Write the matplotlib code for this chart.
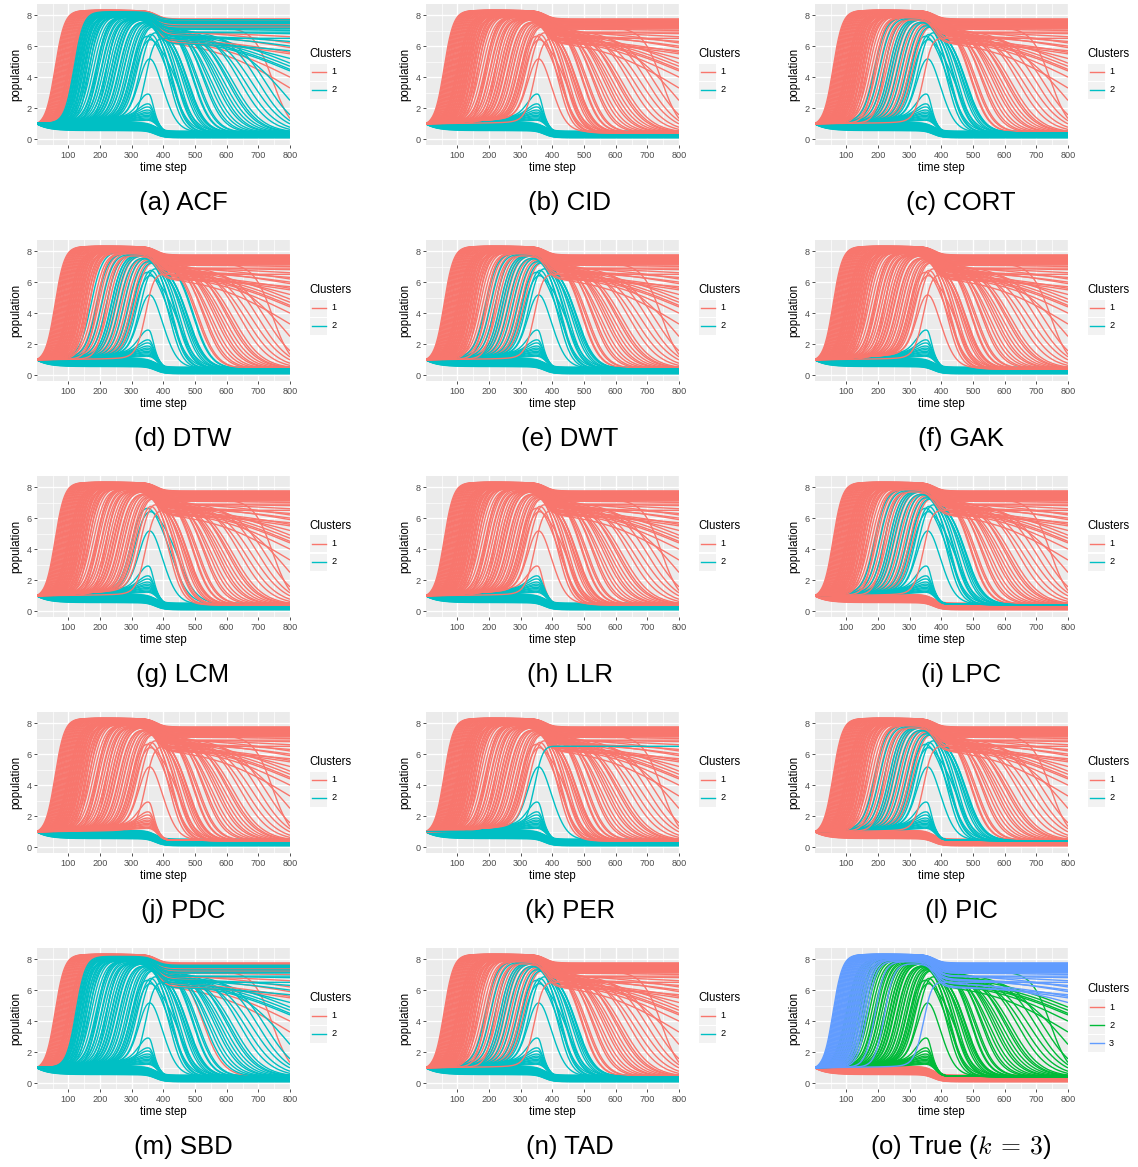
import numpy as np
import matplotlib
matplotlib.use("Agg")
import matplotlib.pyplot as plt
from matplotlib.patches import Rectangle
from matplotlib.lines import Line2D

plt.rcParams["font.family"] = ["Liberation Sans", "DejaVu Sans"]
plt.rcParams["mathtext.fontset"] = "cm"

# ---- curves ---------------------------------------------------------------
# low class: level held until t~370, level after the drop
low_level = [1.08, 1.06, 1.04, 1.02, 1.0, 0.98, 0.96, 0.94, 0.92, 0.9, 0.88, 0.86, 0.84,
             0.82, 0.8, 0.78, 0.76, 0.74, 0.72, 0.7, 0.68, 0.66, 0.64, 0.62, 0.6, 0.58, 0.56]
low_last = [0.52, 0.5, 0.48, 0.46, 0.44, 0.42, 0.41, 0.39, 0.37, 0.35, 0.34, 0.32, 0.3,
            0.29, 0.27, 0.26, 0.24, 0.23, 0.21, 0.2, 0.18, 0.17, 0.15, 0.14, 0.12, 0.11, 0.1]

# small bumps around t~355
bump_peak = [2.9, 2.25, 2.05, 1.85, 1.72, 1.62, 1.52, 1.44, 1.36, 1.28, 1.22]
bump_base = [1.5, 1.48, 1.45, 1.42, 1.38, 1.35, 1.3, 1.27, 1.22, 1.18, 1.14]

# middle class: rise time, plateau, level after t~380, decline centre, width, value at t=800
mid_rise = [100, 105, 112, 120, 128, 135, 142, 150, 158, 165, 172, 180, 188, 196, 204, 212,
            220, 228, 236, 244, 252, 260, 268, 276, 284, 292, 300, 310,
            190, 205, 220, 235, 250, 262, 275, 290, 305, 318, 328, 242,
            298, 310, 326]
mid_top = [8.0, 8.0, 8.0, 8.0, 8.0, 8.0, 8.0, 8.0, 8.0, 8.0, 8.0, 8.0, 8.0, 7.95, 7.95, 7.9,
           7.9, 7.85, 7.85, 7.8, 7.8, 7.8, 7.75, 7.75, 7.7, 7.7, 7.7, 7.65,
           7.9, 7.85, 7.85, 7.8, 7.8, 7.75, 7.75, 7.7, 7.7, 7.7, 7.6, 7.8,
           7.3, 7.1, 6.6]
mid_hold = [7.2, 6.6, 6.5, 7.5, 7.3, 6.7, 7.4, 7.0, 6.8, 7.2, 7.5, 7.0, 7.1, 7.4, 6.9, 6.8,
            7.3, 7.0, 7.5, 7.2, 7.4, 6.6, 7.1, 7.3, 6.9, 7.2, 6.8, 7.0,
            7.5, 7.4, 7.3, 7.3, 7.2, 7.2, 7.1, 7.1, 7.0, 7.0, 6.9, 7.2,
            6.5, 6.3, 5.2]
mid_drop = [745, 800, 800, 525, 600, 800, 560, 700, 800, 640, 495, 800, 580, 540, 660, 800,
            510, 620, 492, 570, 530, 800, 590, 505, 680, 550, 725, 610,
            425, 440, 460, 450, 475, 430, 478, 445, 468, 420, 472, 476,
            428, 448, 405]
mid_width = [30, 130, 130, 32, 45, 130, 40, 50, 90, 48, 28, 130, 42, 36, 50, 130,
             30, 46, 28, 40, 34, 130, 44, 30, 52, 38, 50, 45,
             22, 24, 26, 24, 28, 22, 28, 24, 26, 21, 28, 28,
             26, 28, 22]
mid_last = [0.4, 4.0, 3.3, 0.4, 0.4, 4.5, 0.4, 0.4, 2.5, 0.4, 0.4, 4.9, 0.4, 0.4, 0.4, 4.7,
            0.4, 0.4, 0.4, 0.4, 0.4, 4.4, 0.4, 0.4, 0.4, 0.4, 0.4, 0.4,
            0.4, 0.4, 0.4, 0.4, 0.4, 0.4, 0.4, 0.4, 0.4, 0.4, 0.4, 0.4,
            0.45, 0.45, 0.45]

# high class: rise time, plateau, level after t~380, value at t=800
high_rise = [58, 61, 64, 67, 70, 73, 76, 79, 82, 85, 88, 91, 94, 97, 100, 103, 106,
             109, 112, 115, 118, 121, 124, 127, 130, 133, 136, 140, 144, 148, 153, 158, 165,
             190, 220, 345]
high_top = [8.3, 8.3, 8.3, 8.3, 8.3, 8.3, 8.3, 8.3, 8.3, 8.3, 8.3, 8.3, 8.3, 8.3, 8.3, 8.3,
            8.28, 8.28, 8.26, 8.25, 8.22, 8.2, 8.18, 8.15, 8.12, 8.1, 8.08, 8.05, 8.02, 8.0,
            7.98, 7.95, 7.9, 7.85, 7.75, 6.6]
high_hold = [7.75, 7.6, 7.7, 7.45, 7.65, 7.3, 7.55, 7.2, 7.7, 7.4, 6.5, 7.6, 6.9, 7.5, 7.35,
             6.3, 7.65, 7.0, 7.25, 6.8, 7.7, 7.1, 7.45, 6.9, 7.6, 6.7, 7.15, 7.55, 6.6, 7.3,
             6.9, 7.5, 6.2, 7.1, 6.7, 6.5]
high_last = [7.75, 7.6, 7.7, 7.45, 7.65, 7.3, 7.55, 7.2, 7.7, 7.4, 5.6, 7.6, 6.6, 7.5, 7.35,
             5.5, 7.65, 6.2, 7.25, 5.9, 7.7, 7.0, 7.45, 6.9, 7.6, 6.0, 7.15, 7.55, 5.2, 7.3,
             6.8, 7.5, 5.7, 7.1, 6.3, 6.5]

methods = ["(a) ACF", "(b) CID", "(c) CORT", "(d) DTW", "(e) DWT", "(f) GAK", "(g) LCM",
           "(h) LLR", "(i) LPC", "(j) PDC", "(k) PER", "(l) PIC", "(m) SBD", "(n) TAD",
           r"(o) True ($k\:=\:3$)"]

RED, CYAN = "#F8766D", "#00BFC4"
TRUE_COLORS = ["#F8766D", "#00BA38", "#619CFF"]

t = np.arange(1, 801)


def sig(x):
    return 1.0 / (1.0 + np.exp(-x))


def grow(r, top, hold, drop, width, last, slope=0.0, kr=15.0):
    base = 1 + slope * t
    s0 = sig((1 - r) / kr)
    up = (sig((t - r) / kr) - s0) / (1 - s0)
    y = base + (top - base) * up
    y = y + (hold - y) * sig((t - 378) / 14.0)
    # slow decliners are given by their value at t=800
    fin = 2 * last - hold if drop >= 800 else last
    return y + (fin - y) * sig((t - drop) / width)


curves = []  # (kind, rise, drop, peak, y)
for lv, la in zip(low_level, low_last):
    y = lv + (1 - lv) * np.exp(-t / 35.0)
    y = y + (la - y) * sig((t - 375) / 14.0)
    curves.append(("low", 999, 999, lv, y))
for pk, b in zip(bump_peak, bump_base):
    base = 1 + (b - 1) * t / 300.0
    wid = np.where(t < 355, 45.0, 18.0)
    y = base + (pk - b) * np.exp(-((t - 355) / wid) ** 2)
    y = y + (0.45 - y) * sig((t - 384) / 9.0)
    curves.append(("bump", 999, 999, pk, y))
for i in range(len(mid_rise)):
    y = grow(mid_rise[i], mid_top[i], mid_hold[i], mid_drop[i], mid_width[i], mid_last[i],
             0.0012, 18.0)
    kind = "hump" if mid_top[i] < 7.5 else "mid"
    curves.append((kind, mid_rise[i], mid_drop[i], y.max(), y))
for i in range(len(high_rise)):
    y = grow(high_rise[i], high_top[i], high_hold[i], 800, 130, high_last[i], 0.0, 15.0)
    curves.append(("high", high_rise[i], 999, y.max(), y))


def cluster(name, kind, rise, drop, peak):
    if name == "ACF":
        return 2 if rise >= 118 else 1
    if name == "SBD":
        return 2 if rise >= 122 else 1
    if name in ("CID", "GAK"):
        return 2 if kind in ("low", "bump") else 1
    if name == "LLR":
        return 2 if kind == "low" or (kind == "bump" and peak < 2.5) else 1
    if name == "PDC":
        return 2 if kind == "low" else 1
    if name in ("CORT", "DWT", "TAD"):
        return 2 if kind in ("low", "bump", "hump") or (kind == "mid" and drop < 480) else 1
    if name == "DTW":
        return 2 if kind in ("low", "bump", "hump") or (kind == "mid" and drop < 500) else 1
    if name in ("LPC", "PIC"):
        return 2 if kind in ("bump", "hump") or (kind == "mid" and drop < 490) else 1
    if name == "LCM":
        return 2 if kind in ("low", "bump", "hump") else 1
    if name == "PER":
        if kind in ("low", "bump"):
            return 2
        if kind == "hump" and peak < 5.5:
            return 2
        if kind == "high" and rise > 300:
            return 2
        return 1
    # true classes
    return {"low": 1, "bump": 2, "hump": 2, "mid": 2, "high": 3}[kind]


W, H = 1138, 1167
fig = plt.figure(figsize=(W / 100, H / 100), dpi=100)

col_left = [37, 426, 815]
row_top = [4, 240, 476, 712, 948]
cap_x = [183, 570, 961]
pw, ph = 253, 141

for k, label in enumerate(methods):
    r, c = divmod(k, 3)
    x0, y0 = col_left[c], row_top[r]
    ax = fig.add_axes([x0 / W, 1 - (y0 + ph) / H, pw / W, ph / H])
    name = label.split(") ")[1].split(" ")[0]
    is_true = name == "True"
    for kd in ["low", "bump", "hump", "mid", "high"]:
        for kind, rise, drop, peak, y in curves:
            if kind != kd:
                continue
            cl = cluster(name, kind, rise, drop, peak)
            col = TRUE_COLORS[cl - 1] if is_true else (RED if cl == 1 else CYAN)
            ax.plot(t, y, color=col, lw=1.0, solid_capstyle="butt")

    ax.set_facecolor("#EBEBEB")
    ax.set_xlim(1, 800)
    ax.set_ylim(-0.37, 8.71)
    ax.set_xticks([100, 200, 300, 400, 500, 600, 700, 800])
    ax.set_yticks([0, 2, 4, 6, 8])
    ax.set_xticks([50, 150, 250, 350, 450, 550, 650, 750], minor=True)
    ax.set_yticks([1, 3, 5, 7], minor=True)
    ax.grid(which="major", color="white", lw=1.0)
    ax.grid(which="minor", color="white", lw=0.5)
    ax.set_axisbelow(True)
    for s in ax.spines.values():
        s.set_visible(False)
    ax.tick_params(which="major", length=2.5, width=0.6, color="#333333",
                   labelsize=6.6, labelcolor="#4D4D4D", pad=1.5)
    ax.tick_params(which="minor", length=0)
    ax.set_xlabel("time step", fontsize=8.3, labelpad=1.5)
    ax.set_ylabel("population", fontsize=8.3, labelpad=3)

    # legend drawn like ggplot's guide
    n = 3 if is_true else 2
    cols = TRUE_COLORS if is_true else [RED, CYAN]
    lx = x0 + pw + 19
    ty = y0 + (41 if is_true else 50)
    fig.text(lx / W, 1 - ty / H, "Clusters", fontsize=8.3, va="center", ha="left")
    for j in range(n):
        ky = ty + 18 + 18 * j
        fig.patches.append(Rectangle(((lx + 1) / W, 1 - (ky + 8.5) / H), 17 / W, 17 / H,
                                     transform=fig.transFigure, facecolor="#F2F2F2",
                                     edgecolor="none"))
        fig.lines.append(Line2D([(lx + 2.5) / W, (lx + 16.5) / W], [1 - ky / H, 1 - ky / H],
                                transform=fig.transFigure, color=cols[j], lw=1.0))
        fig.text((lx + 22) / W, 1 - ky / H, str(j + 1), fontsize=6.6, va="center", ha="left")

    fig.text(cap_x[c] / W, 1 - (203 + 236 * r) / H, label, fontsize=18.5,
             ha="center", va="center")

fig.savefig("out.png", dpi=100)
